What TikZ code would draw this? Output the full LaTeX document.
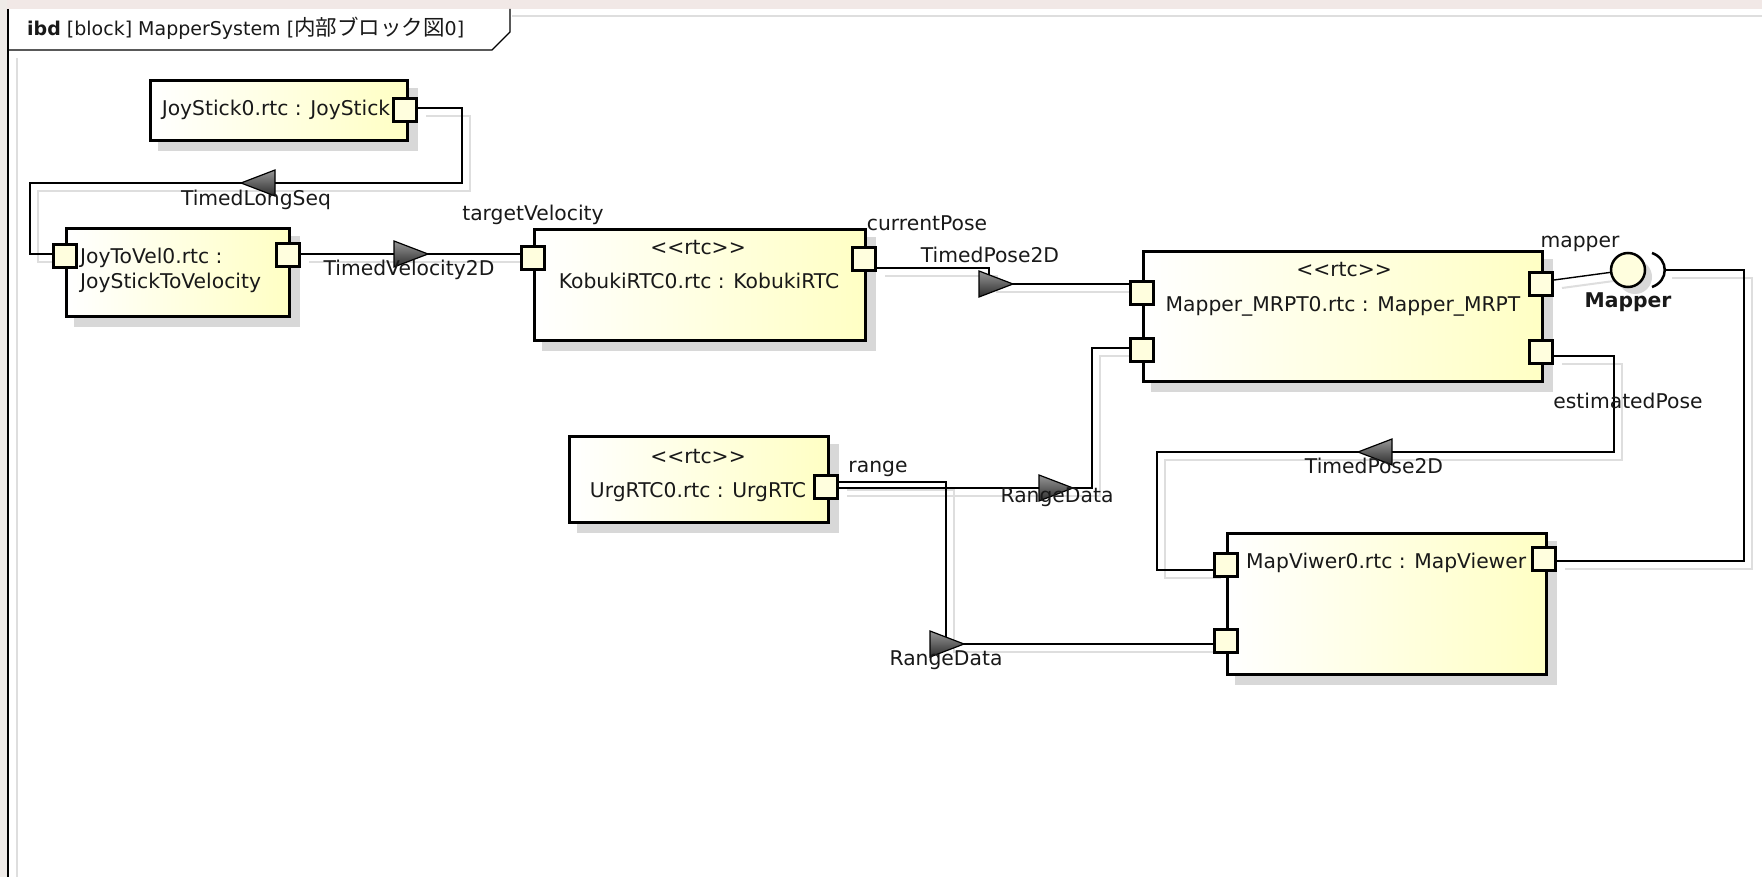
\documentclass[tikz,border=0pt]{standalone}
\usepackage{fontspec}
\setmainfont{DejaVu Sans}
\newfontfamily\jpfont{Noto Sans CJK JP}
\usetikzlibrary{calc}
\definecolor{boxyel}{RGB}{255,255,196}
\definecolor{portfill}{RGB}{255,254,222}
\definecolor{shadowc}{RGB}{216,216,216}
\definecolor{lshadow}{RGB}{222,222,222}
\definecolor{pinkbg}{RGB}{241,232,230}
\definecolor{leftbg}{RGB}{239,235,232}
\definecolor{txt}{RGB}{25,25,25}
\definecolor{tgl}{RGB}{150,150,150}
\definecolor{tgd}{RGB}{45,45,45}
\pgfdeclarelayer{back}
\pgfdeclarelayer{shad}
\pgfsetlayers{back,shad,main}
\tikzset{
 blk/.style={draw=black, line width=3.2pt, left color=white, right color=boxyel, anchor=north west, inner sep=0pt},
 prt/.style={draw=black, line width=3pt, fill=portfill, minimum width=23pt, minimum height=23pt, inner sep=0pt},
 conn/.style={draw=black, line width=1.4pt},
 cshad/.style={draw=lshadow, line width=2pt},
 lbl/.style={font=\fontsize{20.3}{24}\selectfont, text=txt, inner sep=0pt, text height=15pt, text depth=4.5pt},
 trir/.pic={\shade[draw=black, line width=1.2pt, top color=tgl, bottom color=tgd] (-17,-13) -- (17,0) -- (-17,13) -- cycle;},
 tril/.pic={\shade[draw=black, line width=1.2pt, top color=tgl, bottom color=tgd] (17,-13) -- (-17,0) -- (17,13) -- cycle;},
}
\begin{document}
\begin{tikzpicture}[x=1pt,y=-1pt]
\useasboundingbox (0,0) rectangle (1762,877);
\begin{pgfonlayer}{back}
\fill[white] (0,0) rectangle (1762,877);
\fill[pinkbg] (0,0) rectangle (1762,9);
\fill[leftbg] (0,0) rectangle (7,877);
\draw[lshadow, line width=2pt] (17,58) -- (17,877);
\draw[lshadow, line width=2pt] (512,16) -- (1762,16);
\draw[line width=2pt] (8,9) -- (8,877);
\draw[line width=1.4pt] (8,50) -- (492,50) -- (510,32) -- (510,9);
\end{pgfonlayer}
\node[lbl, font=\fontsize{19}{22}\selectfont, anchor=west] (title) at (27,30) {\textbf{ibd} [block] MapperSystem [{\jpfont\fontsize{21.5}{24}\selectfont 内部ブロック図}0]};

% blocks
\node[blk, minimum width=257pt, minimum height=60pt] (js) at (149,79) {};
\node[blk, minimum width=223pt, minimum height=88pt] (jtv) at (65,227) {};
\node[blk, minimum width=331pt, minimum height=111pt] (kob) at (533,228) {};
\node[blk, minimum width=259pt, minimum height=86pt] (urg) at (568,435) {};
\node[blk, minimum width=399pt, minimum height=130pt] (mp) at (1142,250) {};
\node[blk, minimum width=319pt, minimum height=141pt] (mv) at (1226,532) {};

% ports
\node[prt] (jsout) at (405,110) {};
\node[prt] (jtvin) at (65,256) {};
\node[prt] (jtvout) at (288,255) {};
\node[prt] (kobin) at (533,258) {};
\node[prt] (kobout) at (864,259) {};
\node[prt] (mpin1) at (1142,293) {};
\node[prt] (mpin2) at (1142,350) {};
\node[prt] (mpout1) at (1541,284) {};
\node[prt] (mpout2) at (1541,352) {};
\node[prt] (urgout) at (826,487) {};
\node[prt] (mvin1) at (1226,565) {};
\node[prt] (mvin2) at (1226,641) {};
\node[prt] (mvout) at (1544,559) {};

% provided interface
\node[circle, draw=black, line width=2.5pt, fill=portfill, minimum size=34pt, inner sep=0pt] (prov) at (1628,270) {};
\coordinate (sock) at (1664,270);

% shadows
\begin{pgfonlayer}{shad}
\foreach \b in {js,jtv,kob,urg,mp,mv}{
  \fill[shadowc] ($(\b.north west)+(9,9)$) rectangle ($(\b.south east)+(9,9)$);
}
\fill[shadowc] ($(prov)+(7,7)$) circle[radius=17];
\begin{scope}[transform canvas={shift={(8,8)}}]
\draw[cshad] ([yshift=2pt]jsout.east) -| (462,183) -| (30,254) -- ([yshift=2pt]jtvin.west);
\draw[cshad] ([yshift=1pt]jtvout.east) -- ([yshift=4pt]kobin.west);
\draw[cshad] ([yshift=-9pt]kobout.east) -| (989,284) -- ([yshift=9pt]mpin1.west);
\draw[cshad] ([yshift=-4pt]mpout2.east) -| (1614,452) -| (1157,570) -- ([yshift=-5pt]mvin1.west);
\draw[cshad] ([yshift=4pt]mpout1.east) -- (prov);
\draw[cshad] (sock) -| (1744,561) -- ([yshift=-2pt]mvout.east);
\draw[cshad] ([yshift=5pt]urgout.east) -| (946,644) -- ([yshift=-3pt]mvin2.west);
\draw[cshad] ([yshift=-1pt]urgout.east) -| (1092,348) -- ([yshift=2pt]mpin2.west);
\end{scope}
\end{pgfonlayer}

% connectors
\draw[conn] ([yshift=2pt]jsout.east) -| (462,183) -| (30,254) -- ([yshift=2pt]jtvin.west);
\draw[conn] ([yshift=1pt]jtvout.east) -- ([yshift=4pt]kobin.west);
\draw[conn] ([yshift=-9pt]kobout.east) -| (989,284) -- ([yshift=9pt]mpin1.west);
\draw[conn] ([yshift=-4pt]mpout2.east) -| (1614,452) -| (1157,570) -- ([yshift=-5pt]mvin1.west);
\draw[conn] ([yshift=4pt]mpout1.east) -- (prov);
\draw[line width=2.5pt] (1652,253) .. controls (1669,259) and (1669,281) .. (1652,287);
\draw[conn] (sock) -| (1744,561) -- ([yshift=-2pt]mvout.east);
\draw[conn] ([yshift=5pt]urgout.east) -| (946,644) -- ([yshift=-3pt]mvin2.west);
\draw[conn] ([yshift=-1pt]urgout.east) -| (1092,348) -- ([yshift=2pt]mpin2.west);

% flow arrows
\pic at (258,183) {tril};
\pic at (411,254) {trir};
\pic at (996,284) {trir};
\pic at (1375,452) {tril};
\pic at (947,644) {trir};
\pic at (1056,488) {trir};

% block texts
\node[lbl] (jst) at (276,110) {JoyStick0.rtc : JoyStick};
\node[lbl, anchor=west] (jtvt1) at (80,258) {JoyToVel0.rtc :};
\node[lbl, anchor=west] (jtvt2) at (80,283) {JoyStickToVelocity};
\node[lbl] (kobs) at (698,249) {<{}<rtc>{}>};
\node[lbl] (kobt) at (699,283) {KobukiRTC0.rtc : KobukiRTC};
\node[lbl] (urgs) at (698,458) {<{}<rtc>{}>};
\node[lbl] (urgt) at (698,492) {UrgRTC0.rtc : UrgRTC};
\node[lbl] (mps) at (1344,271) {<{}<rtc>{}>};
\node[lbl] (mpt) at (1343,306) {Mapper\_MRPT0.rtc : Mapper\_MRPT};
\node[lbl, anchor=west] (mvt) at (1246,563) {MapViwer0.rtc : MapViewer};

% labels
\node[lbl] (l1) at (256,200) {TimedLongSeq};
\node[lbl] (l2) at (409,270) {TimedVelocity2D};
\node[lbl] (l3) at (533,215) {targetVelocity};
\node[lbl] (l4) at (927,225) {currentPose};
\node[lbl] (l5) at (990,257) {TimedPose2D};
\node[lbl] (l6) at (1580,242) {mapper};
\node[lbl, font=\fontsize{20.3}{24}\selectfont\bfseries] (l7) at (1628,302) {Mapper};
\node[lbl] (l8) at (1628,403) {estimatedPose};
\node[lbl] (l9) at (1374,468) {TimedPose2D};
\node[lbl] (l10) at (878,467) {range};
\node[lbl] (l11) at (1057,497) {RangeData};
\node[lbl] (l12) at (946,660) {RangeData};
\end{tikzpicture}
\end{document}
